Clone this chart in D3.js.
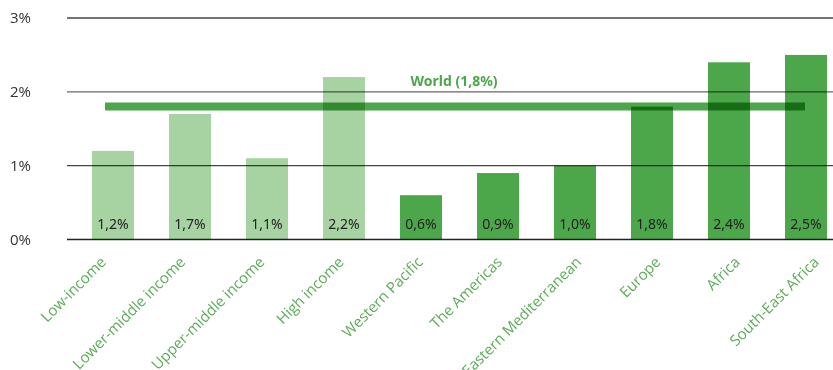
<!DOCTYPE html>
<html>
<head>
<meta http-equiv="Content-Type" content="text/html; charset=UTF-8">
<style>
body { margin: 0; background: #fff; }
text { font-family: "Noto Sans", sans-serif; }
</style>
</head>
<body>
<svg width="833" height="370"></svg>
<script src="https://cdn.jsdelivr.net/npm/d3@7"></script>
<script>

var categories = ["Low-income", "Lower-middle income", "Upper-middle income", "High income",
    "Western Pacific", "The Americas", "Eastern Mediterranean", "Europe", "Africa", "South-East Africa"];
var values = [1.2, 1.7, 1.1, 2.2, 0.6, 0.9, 1.0, 1.8, 2.4, 2.5];
var groups = ["income", "income", "income", "income", "region", "region", "region", "region", "region", "region"];
var worldValue = 1.8;
var yTicks = [0, 1, 2, 3];

var svg = d3.select("svg");

var x = d3.scaleBand().domain(categories).range([74.5, 844.5]).paddingInner(0.455).paddingOuter(0.2275),
    xl = d3.scalePoint().domain(categories).range([107, 820]),
    y = d3.scaleLinear().domain([0, 3]).range([239.5, 18]);

var fmt = function(v) { return d3.format(".1f")(v).replace(".", ","); };

// gridlines
svg.append("g").selectAll("line")
    .data(yTicks)
  .enter().append("line")
    .attr("x1", 67).attr("x2", 833)
    .attr("y1", function(d) { return y(d); })
    .attr("y2", function(d) { return y(d); })
    .style("stroke", function(d) { return d == 0 ? "#222" : (d == 2 ? "#666" : "#444"); })
    .style("stroke-width", 1.3);

svg.append("g").selectAll("text")
    .data(yTicks)
  .enter().append("text")
    .attr("x", 31)
    .attr("y", function(d) { return y(d); })
    .attr("dy", "0.35em")
    .style("text-anchor", "end")
    .style("font-family", "'Open Sans', sans-serif")
    .style("font-size", "15px")
    .style("fill", "#333")
    .text(function(d) { return d + "%"; });

// world line
svg.append("line")
    .attr("x1", 105).attr("x2", 805)
    .attr("y1", y(worldValue)).attr("y2", y(worldValue))
    .style("stroke", "#4ca64a")
    .style("stroke-width", 8);

svg.append("text")
    .attr("x", 454)
    .attr("y", 86)
    .style("text-anchor", "middle")
    .style("font-size", "14px")
    .style("font-weight", "bold")
    .style("fill", "#4ca64a")
    .text("World (" + fmt(worldValue) + "%)");

// bars
svg.append("g").selectAll("rect")
    .data(values)
  .enter().append("rect")
    .attr("x", function(d, i) { return x(categories[i]); })
    .attr("width", x.bandwidth())
    .attr("y", function(d) { return y(d); })
    .attr("height", function(d) { return y(0) - y(d); })
    .style("fill", function(d, i) { return groups[i] == "income" ? "#a6d3a1" : "#4ca64a"; })
    .style("mix-blend-mode", "multiply");

svg.append("g").selectAll("text")
    .data(values)
  .enter().append("text")
    .attr("x", function(d, i) { return x(categories[i]) + x.bandwidth() / 2; })
    .attr("y", 229)
    .style("text-anchor", "middle")
    .style("font-size", "14px")
    .style("fill", "#222")
    .text(function(d) { return fmt(d) + "%"; });

// category labels
svg.append("g").selectAll("text")
    .data(categories)
  .enter().append("text")
    .attr("transform", function(d) {
      return "translate(" + xl(d) + ",263) rotate(-45)";
    })
    .style("text-anchor", "end")
    .style("font-family", "'Open Sans', sans-serif")
    .style("font-size", "15px")
    .style("fill", "#5aad56")
    .text(function(d) { return d; });

</script>
</body></html>
